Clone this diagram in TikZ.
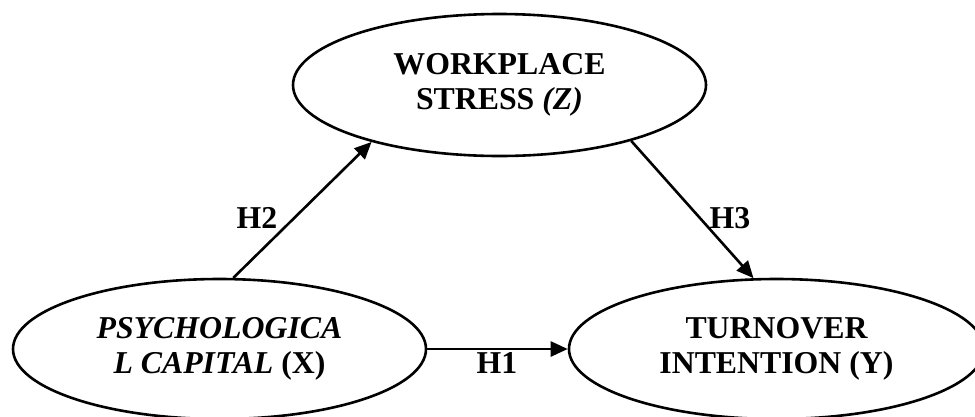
\documentclass[tikz,border=0pt]{standalone}
\usepackage{fontspec}
\setmainfont{Liberation Serif}
\usetikzlibrary{arrows.meta,shapes.geometric}
\begin{document}
\begin{tikzpicture}[x=1pt,y=-1pt,
  construct/.style={ellipse,draw,line width=2.6pt,inner sep=0pt,align=center,
    font=\fontsize{31.8}{35.5}\selectfont\bfseries,minimum width=413pt,minimum height=140pt},
  hyp/.style={-{Triangle[length=17pt,width=15pt]},line width=2.6pt},
  hlabel/.style={anchor=base,inner sep=0pt,font=\fontsize{31.8}{35.5}\selectfont\bfseries}]
\useasboundingbox (0,0) rectangle (975,416);
\node[construct,minimum height=142pt] (z) at (499.5,85) {WORKPLACE\\STRESS \textit{(Z)}};
\node[construct] (x) at (219.5,349) {\textit{PSYCHOLOGICA}\\\textit{L CAPITAL} (X)};
\node[construct,minimum width=415pt] (y) at (776.5,349) {TURNOVER\\INTENTION (Y)};
\draw[hyp] (x.79) -- (z.204);
\draw[hyp] (z.337) -- (y.108);
\draw[hyp] (x) -- (y);
\node[hlabel] (h2) at (257,228) {H2};
\node[hlabel] (h3) at (730,228) {H3};
\node[hlabel] (h1) at (497,373) {H1};
\end{tikzpicture}
\end{document}
